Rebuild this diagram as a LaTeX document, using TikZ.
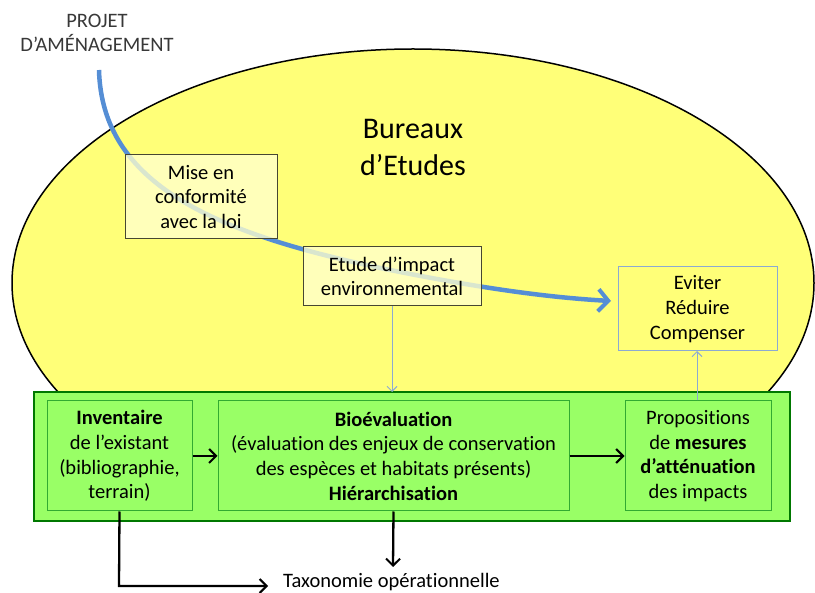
\documentclass[tikz,border=0pt]{standalone}
\usepackage{fontspec}
\setmainfont{Carlito}[Ligatures=NoCommon]
\usetikzlibrary{arrows.meta}
\definecolor{ellfill}{RGB}{255,255,120}
\definecolor{boxfill}{RGB}{255,255,205}
\definecolor{boxline}{RGB}{70,70,50}
\definecolor{curveblue}{RGB}{85,142,213}
\definecolor{thinblue}{RGB}{140,170,210}
\definecolor{grfill}{RGB}{153,255,102}
\definecolor{grdark}{RGB}{0,120,0}
\definecolor{grmid}{RGB}{50,170,50}
\tikzset{
  txt/.style={font=\fontsize{20.5}{24.7}\selectfont, align=center, inner sep=0pt},
  lawbox/.style={draw=boxline, line width=1pt, fill=boxfill, fill opacity=0.78, text opacity=1},
  inbox/.style={draw=grmid, line width=1pt, fill=grfill},
  blk/.style={line width=2.3pt, -{Straight Barb[length=7pt,width=14pt,line width=2pt]}},
  thin/.style={thinblue, line width=1pt, -{Straight Barb[length=5pt,width=10pt]}}
}
\begin{document}
\begin{tikzpicture}[x=1pt,y=-1pt]
\useasboundingbox (0,0) rectangle (815,593);
% ellipse
\draw[fill=ellfill, line width=1.5pt] (413,283) ellipse [x radius=401, y radius=234];
\node[txt, font=\fontsize{30}{37}\selectfont] (bur) at (413,147) {Bureaux\\d’Etudes};
\node[txt, text=black!78] (proj) at (97,33) {PROJET\\D’AMÉNAGEMENT};
% curve
\coordinate (cs) at (99,70);
\coordinate (ce) at (611,301);
\draw[curveblue, line width=4.5pt, -{Straight Barb[length=10pt,width=22pt,line width=4pt]}]
  (cs) .. controls (102,185) and (215,234) .. (390,270)
       .. controls (470,286) and (540,297) .. (ce);
% boxes on the curve
\path[lawbox] (125,155) rectangle (277,239);
\node[txt] (mise) at (201,197) {Mise en\\conformité\\avec la loi};
\path[lawbox] (303,247) rectangle (481,306);
\node[txt] (etude) at (392,276.5) {Etude d’impact\\environnemental};
\coordinate (etb) at (392,306);
% eviter box
\draw[thinblue, line width=1pt] (618,267) rectangle (777,351);
\node[txt] (evit) at (697.5,309) {Eviter\\Réduire\\Compenser};
\coordinate (evb) at (697,351);
% green block
\draw[grdark, line width=2pt, fill=grfill] (34,392) rectangle (790,521);
\coordinate (grtop) at (392,392);
\node[inbox, minimum width=145pt, minimum height=110pt] (inv) at (119.5,456) {};
\node[txt] at (inv.center) {\textbf{Inventaire}\\de l’existant\\(bibliographie,\\terrain)};
\node[inbox, minimum width=351pt, minimum height=110pt] (bio) at (393.5,456) {};
\node[txt] at (bio.center) {\textbf{Bioévaluation}\\(évaluation des enjeux de conservation\\des espèces et habitats présents)\\\textbf{Hiérarchisation}};
\node[inbox, minimum width=146pt, minimum height=110pt] (prop) at (698,456) {};
\node[txt] at (prop.center) {Propositions\\de \textbf{mesures}\\\textbf{d’atténuation}\\des impacts};
% connectors
\draw[thin] (etb) -- (grtop);
\draw[thin] (prop.north -| evb) -- (evb);
\draw[blk] (inv.east) -- (bio.west);
\draw[blk] (bio.east) -- (prop.west);
\node[txt, anchor=base west] (tax) at (283,588) {Taxonomie opérationnelle};
\coordinate (corner) at (119,586);
\draw[blk] (inv.south) -- (corner) -- (268,586);
\draw[blk] (bio.south) -- (393,567);
\end{tikzpicture}
\end{document}
